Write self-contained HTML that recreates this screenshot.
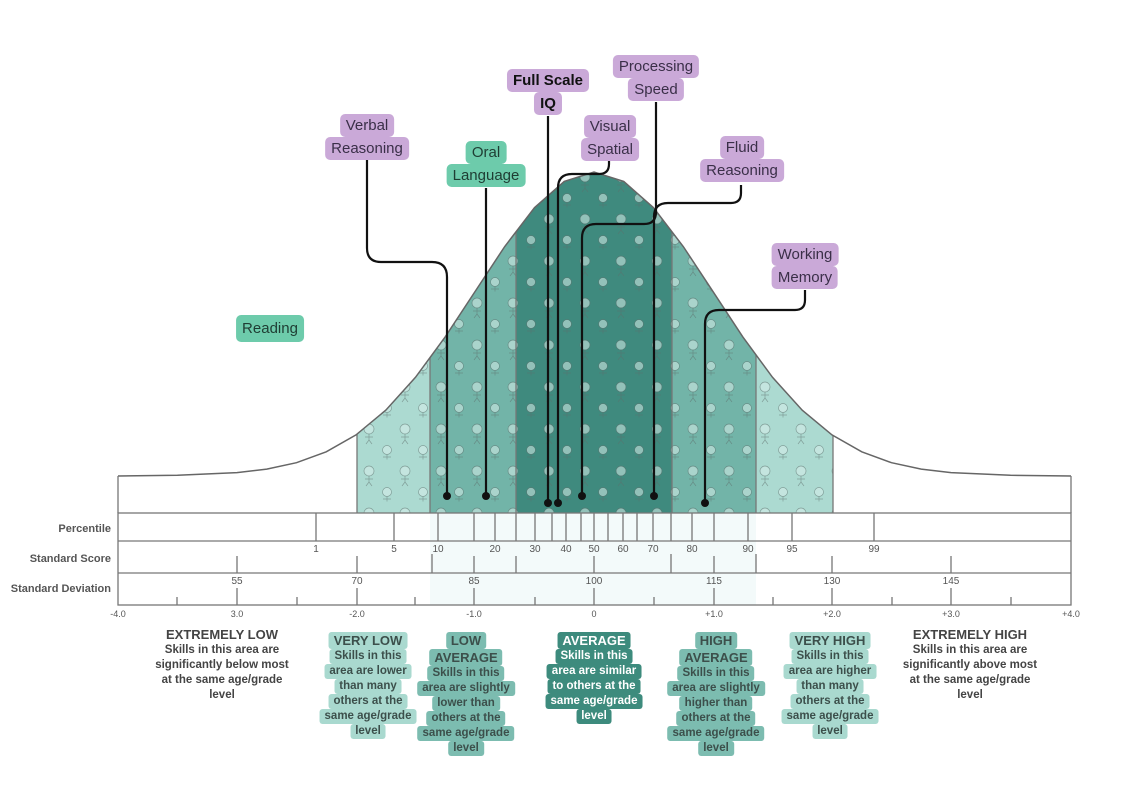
<!DOCTYPE html>
<html><head><meta charset="utf-8"><style>
body{margin:0;width:1122px;height:792px;background:#fff;position:relative;overflow:hidden;font-family:"Liberation Sans",sans-serif}
.lab{position:absolute;display:flex;flex-direction:column;align-items:center;transform:translateX(-50%);font-size:15px;color:#3a2f48}
.lab span{display:block;background:#caa9d8;padding:0 6px;line-height:23px;border-radius:5px;white-space:nowrap}
.lab.g span{background:#6dcbab;color:#1f3d33}
.lab.b{font-weight:bold;color:#111}
.cat{position:absolute;display:flex;flex-direction:column;align-items:center;transform:translateX(-50%);font-size:11.5px;font-weight:bold;color:#3c4f4b}
.cat span{display:block;padding:0 5px;line-height:15px;border-radius:3px;white-space:nowrap}
.cat .h{font-size:13px;line-height:17px}
.c1 span{background:#a9d9cf}
.c2 span{background:#7cbcb0}
.c3 span{background:#3d8b7d;color:#fff}
.c0{color:#444}
</style></head><body>
<svg width="1122" height="792" style="position:absolute;left:0;top:0">
<defs>
<clipPath id="bell"><path d="M118,476 L177.5,475.3 L237,472.6 L266.75,469.1 L296.5,462.7 L326.25,451.8 L356,434.9 L385.75,410.2 L415.5,377.3 L445.25,336.8 L475,291.6 L504.75,246.5 L534.5,207.7 L564.25,181.4 L594,172 L623.75,181.4 L653.5,207.7 L683.25,246.5 L713,291.6 L742.75,336.8 L772.5,377.3 L802.25,410.2 L832,434.9 L861.75,451.8 L891.5,462.7 L921.25,469.1 L951,472.6 L1010.5,475.3 L1071,476 L1071,513 L118,513 Z"/></clipPath>
<pattern id="kids" width="36" height="42" patternUnits="userSpaceOnUse">
<circle cx="9" cy="9" r="5" fill="#d8eeea" stroke="#5d6d6a" stroke-width="0.7"/>
<path d="M9,14 v6 M5,17 h8 M9,20 l-3,4 M9,20 l3,4" stroke="#5d6d6a" stroke-width="0.7" fill="none"/>
<circle cx="27" cy="30" r="4.5" fill="#d8eeea" stroke="#5d6d6a" stroke-width="0.7"/>
<path d="M27,34.5 v5 M23,37 h8" stroke="#5d6d6a" stroke-width="0.7" fill="none"/>
</pattern>
</defs>
<rect x="430" y="513" width="326" height="92" fill="#f3fafa"/>
<g clip-path="url(#bell)">
<rect x="357" y="150" width="73" height="363" fill="#acdad1"/>
<rect x="430" y="150" width="86" height="363" fill="#72b4a8"/>
<rect x="516" y="150" width="156" height="363" fill="#3f8a7e"/>
<rect x="672" y="150" width="84" height="363" fill="#72b4a8"/>
<rect x="756" y="150" width="77" height="363" fill="#acdad1"/>
<rect x="357" y="150" width="476" height="363" fill="url(#kids)" opacity="0.55"/>
<g stroke="#777" stroke-width="1.3">
<line x1="357" y1="150" x2="357" y2="513"/><line x1="430" y1="150" x2="430" y2="513"/><line x1="516" y1="150" x2="516" y2="513"/><line x1="672" y1="150" x2="672" y2="513"/><line x1="756" y1="150" x2="756" y2="513"/><line x1="833" y1="150" x2="833" y2="513"/>
</g>
</g>
<path d="M118,476 L177.5,475.3 L237,472.6 L266.75,469.1 L296.5,462.7 L326.25,451.8 L356,434.9 L385.75,410.2 L415.5,377.3 L445.25,336.8 L475,291.6 L504.75,246.5 L534.5,207.7 L564.25,181.4 L594,172 L623.75,181.4 L653.5,207.7 L683.25,246.5 L713,291.6 L742.75,336.8 L772.5,377.3 L802.25,410.2 L832,434.9 L861.75,451.8 L891.5,462.7 L921.25,469.1 L951,472.6 L1010.5,475.3 L1071,476" fill="none" stroke="#666" stroke-width="1.5"/>
<g stroke="#777" stroke-width="1.3" fill="none">
<rect x="118" y="513" width="953" height="92"/>
<line x1="118" y1="476" x2="118" y2="513"/><line x1="1071" y1="476" x2="1071" y2="513"/>
<line x1="118" y1="541" x2="1071" y2="541"/><line x1="118" y1="573" x2="1071" y2="573"/>
</g>
<g stroke="#777" stroke-width="1.3">
<line x1="316" y1="513" x2="316" y2="541"/><line x1="394" y1="513" x2="394" y2="541"/><line x1="438" y1="513" x2="438" y2="541"/><line x1="474" y1="513" x2="474" y2="541"/><line x1="495" y1="513" x2="495" y2="541"/><line x1="516" y1="513" x2="516" y2="541"/><line x1="535" y1="513" x2="535" y2="541"/><line x1="552" y1="513" x2="552" y2="541"/><line x1="566" y1="513" x2="566" y2="541"/><line x1="581" y1="513" x2="581" y2="541"/><line x1="594" y1="513" x2="594" y2="541"/><line x1="608" y1="513" x2="608" y2="541"/><line x1="623" y1="513" x2="623" y2="541"/><line x1="637" y1="513" x2="637" y2="541"/><line x1="653" y1="513" x2="653" y2="541"/><line x1="671" y1="513" x2="671" y2="541"/><line x1="692" y1="513" x2="692" y2="541"/><line x1="714" y1="513" x2="714" y2="541"/><line x1="748" y1="513" x2="748" y2="541"/><line x1="792" y1="513" x2="792" y2="541"/><line x1="874" y1="513" x2="874" y2="541"/>
<line x1="237" y1="556" x2="237" y2="573"/><line x1="357" y1="556" x2="357" y2="573"/><line x1="432" y1="554" x2="432" y2="573"/><line x1="474" y1="556" x2="474" y2="573"/><line x1="516" y1="556" x2="516" y2="573"/><line x1="594" y1="556" x2="594" y2="573"/><line x1="671" y1="554" x2="671" y2="573"/><line x1="714" y1="556" x2="714" y2="573"/><line x1="756" y1="554" x2="756" y2="573"/><line x1="832" y1="556" x2="832" y2="573"/><line x1="951" y1="556" x2="951" y2="573"/>
<line x1="237" y1="588" x2="237" y2="605"/><line x1="357" y1="588" x2="357" y2="605"/><line x1="474" y1="588" x2="474" y2="605"/><line x1="594" y1="588" x2="594" y2="605"/><line x1="714" y1="588" x2="714" y2="605"/><line x1="832" y1="588" x2="832" y2="605"/><line x1="951" y1="588" x2="951" y2="605"/>
<line x1="177" y1="597" x2="177" y2="605"/><line x1="297" y1="597" x2="297" y2="605"/><line x1="415" y1="597" x2="415" y2="605"/><line x1="535" y1="597" x2="535" y2="605"/><line x1="654" y1="597" x2="654" y2="605"/><line x1="773" y1="597" x2="773" y2="605"/><line x1="892" y1="597" x2="892" y2="605"/><line x1="1011" y1="597" x2="1011" y2="605"/>
</g>
<g font-family="Liberation Sans" font-size="10" fill="#555" text-anchor="middle">
<text x="316" y="552">1</text><text x="394" y="552">5</text><text x="438" y="552">10</text><text x="495" y="552">20</text><text x="535" y="552">30</text><text x="566" y="552">40</text><text x="594" y="552">50</text><text x="623" y="552">60</text><text x="653" y="552">70</text><text x="692" y="552">80</text><text x="748" y="552">90</text><text x="792" y="552">95</text><text x="874" y="552">99</text>
<text x="237" y="584">55</text><text x="357" y="584">70</text><text x="474" y="584">85</text><text x="594" y="584">100</text><text x="714" y="584">115</text><text x="832" y="584">130</text><text x="951" y="584">145</text>
<text x="118" y="617" font-size="9">-4.0</text><text x="237" y="617" font-size="9">3.0</text><text x="357" y="617" font-size="9">-2.0</text><text x="474" y="617" font-size="9">-1.0</text><text x="594" y="617" font-size="9">0</text><text x="714" y="617" font-size="9">+1.0</text><text x="832" y="617" font-size="9">+2.0</text><text x="951" y="617" font-size="9">+3.0</text><text x="1071" y="617" font-size="9">+4.0</text>
</g>
<g font-family="Liberation Sans" font-size="11" font-weight="bold" fill="#555" text-anchor="end">
<text x="111" y="532">Percentile</text><text x="111" y="562">Standard Score</text><text x="111" y="592">Standard Deviation</text>
</g>
<g stroke="#111" stroke-width="2.2" fill="none">
<path d="M367,160 V248 Q367,262 381,262 H432 Q447,262 447,277 V496"/>
<path d="M486,188 V496"/>
<path d="M548,116 V503"/>
<path d="M609,160 V164 Q609,174 599,174 H572 Q558,174 558,188 V503"/>
<path d="M656,102 V212 Q656,224 644,224 H596 Q582,224 582,238 V496"/>
<path d="M741,185 V193 Q741,203 731,203 H668 Q654,203 654,217 V496"/>
<path d="M805,290 V300 Q805,310 795,310 H719 Q705,310 705,324 V503"/>
</g>
<g fill="#111"><circle cx="447" cy="496" r="4"/><circle cx="486" cy="496" r="4"/><circle cx="548" cy="503" r="4"/><circle cx="558" cy="503" r="4"/><circle cx="582" cy="496" r="4"/><circle cx="654" cy="496" r="4"/><circle cx="705" cy="503" r="4"/></g>
</svg>

<div class="lab" style="left:367px;top:114px"><span>Verbal</span><span>Reasoning</span></div>
<div class="lab g" style="left:486px;top:141px"><span>Oral</span><span>Language</span></div>
<div class="lab b" style="left:548px;top:69px"><span>Full Scale</span><span>IQ</span></div>
<div class="lab" style="left:656px;top:55px"><span>Processing</span><span>Speed</span></div>
<div class="lab" style="left:610px;top:115px"><span>Visual</span><span>Spatial</span></div>
<div class="lab" style="left:742px;top:136px"><span>Fluid</span><span>Reasoning</span></div>
<div class="lab" style="left:805px;top:243px"><span>Working</span><span>Memory</span></div>
<div class="lab g" style="left:270px;top:315px"><span style="line-height:27px">Reading</span></div>

<div class="cat c0" style="left:222px;top:626px"><span class="h">EXTREMELY LOW</span><span>Skills in this area are</span><span>significantly below most</span><span>at the same age/grade</span><span>level</span></div>
<div class="cat c0" style="left:970px;top:626px"><span class="h">EXTREMELY HIGH</span><span>Skills in this area are</span><span>significantly above most</span><span>at the same age/grade</span><span>level</span></div>
<div class="cat c1" style="left:368px;top:632px"><span class="h">VERY LOW</span><span>Skills in this</span><span>area are lower</span><span>than many</span><span>others at the</span><span>same age/grade</span><span>level</span></div>
<div class="cat c2" style="left:466px;top:632px"><span class="h">LOW</span><span class="h">AVERAGE</span><span>Skills in this</span><span>area are slightly</span><span>lower than</span><span>others at the</span><span>same age/grade</span><span>level</span></div>
<div class="cat c3" style="left:594px;top:632px"><span class="h">AVERAGE</span><span>Skills in this</span><span>area are similar</span><span>to others at the</span><span>same age/grade</span><span>level</span></div>
<div class="cat c2" style="left:716px;top:632px"><span class="h">HIGH</span><span class="h">AVERAGE</span><span>Skills in this</span><span>area are slightly</span><span>higher than</span><span>others at the</span><span>same age/grade</span><span>level</span></div>
<div class="cat c1" style="left:830px;top:632px"><span class="h">VERY HIGH</span><span>Skills in this</span><span>area are higher</span><span>than many</span><span>others at the</span><span>same age/grade</span><span>level</span></div>
</body></html>
